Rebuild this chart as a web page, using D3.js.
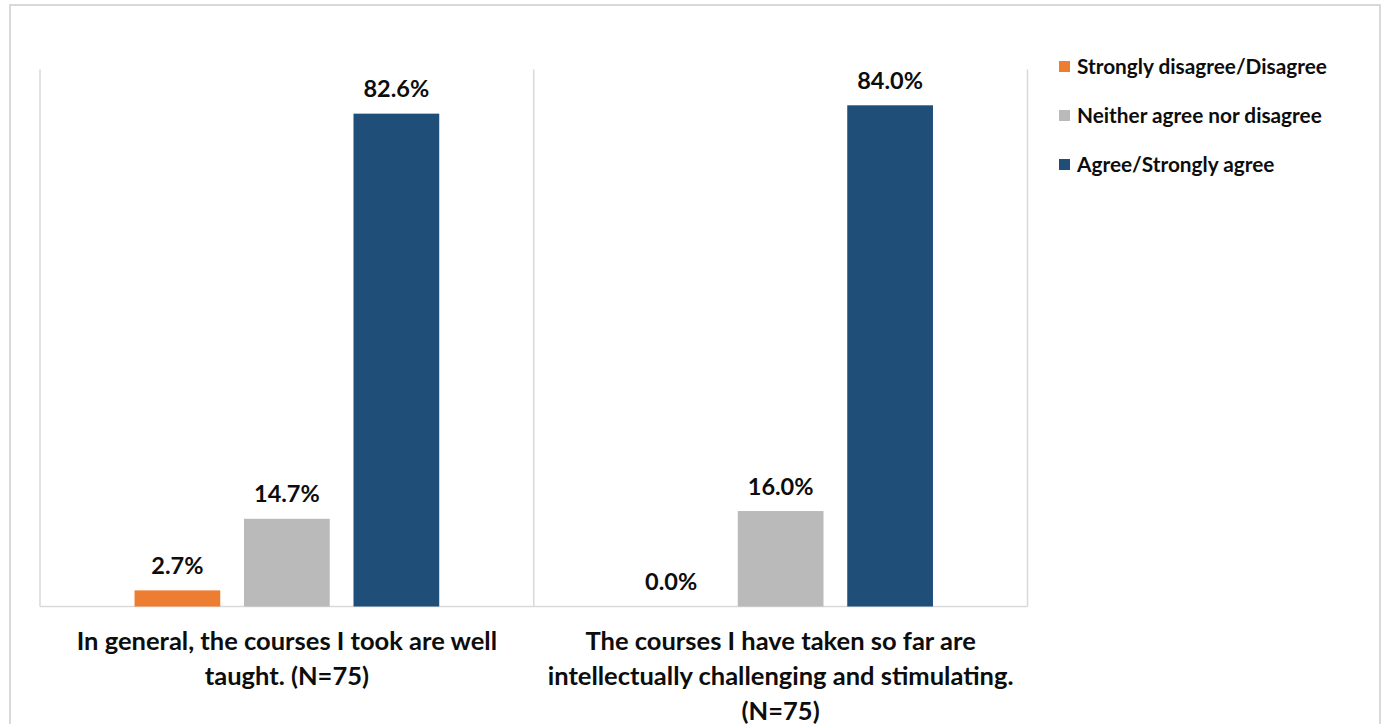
<!DOCTYPE html>
<html>
<head>
<meta charset="utf-8">
<script src="https://cdn.jsdelivr.net/npm/d3@7"></script>
<style>
  html, body { margin: 0; padding: 0; background: #ffffff; }
  svg { display: block; }
  text { font-family: Lato, "Open Sans", sans-serif; font-weight: bold; fill: #0d0d0d; }
</style>
</head>
<body>
<svg id="chart" width="1389" height="724"></svg>
<script>
// ---- data ----
const categories = [
  ["In general, the courses I took are well", "taught. (N=75)"],
  ["The courses I have taken so far are", "intellectually challenging and stimulating.", "(N=75)"]
];
const categoryKeys = ["q1", "q2"];
const seriesNames = ["Strongly disagree/Disagree", "Neither agree nor disagree", "Agree/Strongly agree"];
const seriesColors = ["#ED7D31", "#BABABA", "#1F4E79"];
const valuesDisagree = [0.027, 0.0];
const valuesNeither = [0.147, 0.16];
const valuesAgree = [0.826, 0.84];
const valueLabels = [["2.7%", "14.7%", "82.6%"], ["0.0%", "16.0%", "84.0%"]];
const yMax = 0.9;

const seriesValues = [valuesDisagree, valuesNeither, valuesAgree];

const svg = d3.select("#chart");

// outer border
svg.append("rect")
  .attr("x", 10).attr("y", 5)
  .attr("width", 1370).attr("height", 760)
  .attr("fill", "#ffffff")
  .attr("stroke", "#d9d9d9").attr("stroke-width", 2);

const plot = { left: 40, right: 1027.5, top: 69.5, bottom: 606.5 };

const x0 = d3.scaleBand().domain(categoryKeys).range([plot.left, plot.right]).padding(0);
const y = d3.scaleLinear().domain([0, yMax]).range([plot.bottom, plot.top]);
const groupWidth = 304.7;
const x1 = d3.scaleBand().domain(seriesNames)
  .range([-groupWidth / 2, groupWidth / 2]).paddingInner(0.217).paddingOuter(0);

// vertical separators at category boundaries
const boundaries = categoryKeys.map(k => x0(k)).concat([x0.range()[1]]);
svg.append("g").selectAll("line").data(boundaries).join("line")
  .attr("x1", d => d).attr("x2", d => d)
  .attr("y1", plot.top).attr("y2", plot.bottom)
  .attr("stroke", "#d9d9d9").attr("stroke-width", 1.5);

// baseline
svg.append("line")
  .attr("x1", plot.left).attr("x2", plot.right)
  .attr("y1", y(0)).attr("y2", y(0))
  .attr("stroke", "#d9d9d9").attr("stroke-width", 1.5);

// bars
const barData = [];
categoryKeys.forEach((k, ci) => {
  seriesNames.forEach((s, si) => {
    barData.push({ cat: k, ci, series: s, si, value: seriesValues[si][ci], label: valueLabels[ci][si] });
  });
});

const bars = svg.append("g");
bars.selectAll("rect").data(barData).join("rect")
  .attr("x", d => x0(d.cat) + x0.bandwidth() / 2 + x1(d.series))
  .attr("y", d => y(d.value))
  .attr("width", x1.bandwidth())
  .attr("height", d => y(0) - y(d.value))
  .attr("fill", d => seriesColors[d.si]);

bars.selectAll("text").data(barData).join("text")
  .attr("x", d => x0(d.cat) + x0.bandwidth() / 2 + x1(d.series) + x1.bandwidth() / 2)
  .attr("y", d => y(d.value) - 16.5)
  .attr("text-anchor", "middle")
  .attr("font-size", 23.5)
  .text(d => d.label);

// category labels
const catG = svg.append("g");
categoryKeys.forEach((k, ci) => {
  const t = catG.append("text")
    .attr("x", x0(k) + x0.bandwidth() / 2)
    .attr("y", 650)
    .attr("text-anchor", "middle")
    .attr("font-size", 25.5);
  categories[ci].forEach((line, li) => {
    t.append("tspan")
      .attr("x", x0(k) + x0.bandwidth() / 2)
      .attr("y", 650 + li * 35)
      .text(line);
  });
});

// legend
const legend = svg.append("g").attr("transform", "translate(1059,0)");
const legendY = d3.scalePoint().domain(seriesNames).range([66.5, 164.5]);
seriesNames.forEach((s, i) => {
  legend.append("rect")
    .attr("x", 0).attr("y", legendY(s) - 5.5)
    .attr("width", 11).attr("height", 11)
    .attr("fill", seriesColors[i]);
  legend.append("text")
    .attr("x", 18).attr("y", legendY(s) + 7.5)
    .attr("font-size", 20.8)
    .text(s);
});
</script>
</body>
</html>
